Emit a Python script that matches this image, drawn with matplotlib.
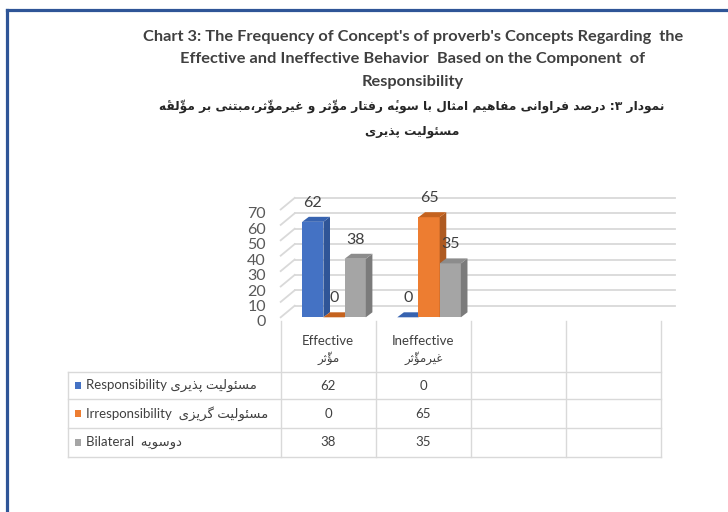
import matplotlib
matplotlib.use('Agg')
import matplotlib.pyplot as plt
import matplotlib.transforms as mtrans
from matplotlib.patches import Polygon, Rectangle
from matplotlib.lines import Line2D

# ---------------- data ----------------
categories_en = ['Effective', 'Ineffective', '', '']
categories_fa = ['مؤثّر', 'غیرمؤثّر', '', '']
series_en = ['Responsibility', 'Irresponsibility', 'Bilateral']
series_fa = ['مسئولیت پذیری', 'مسئولیت گریزی', 'دوسویه']
responsibility = [62, 0]
irresponsibility = [0, 65]
bilateral = [38, 35]
y_ticks = [0, 10, 20, 30, 40, 50, 60, 70]
title_en = ["Chart 3: The Frequency of Concept's of proverb's Concepts Regarding  the",
            "Effective and Ineffective Behavior  Based on the Component  of",
            "Responsibility"]
title_fa = ["نمودار ۳: درصد فراوانی مفاهیم امثال با سویهٔ رفتار مؤثّر و غیرمؤثّر،مبتنی بر مؤلّفهٔ",
            "مسئولیت پذیری"]

# ---------------- simple Persian shaping ----------------
AR_FORMS = {
    0x0627: (0xFE8D, 0xFE8E, None, None), 0x0622: (0xFE81, 0xFE82, None, None),
    0x0623: (0xFE83, 0xFE84, None, None), 0x0624: (0xFE85, 0xFE86, None, None),
    0x0625: (0xFE87, 0xFE88, None, None), 0x0626: (0xFE89, 0xFE8A, 0xFE8B, 0xFE8C),
    0x0628: (0xFE8F, 0xFE90, 0xFE91, 0xFE92), 0x0629: (0xFE93, 0xFE94, None, None),
    0x062A: (0xFE95, 0xFE96, 0xFE97, 0xFE98), 0x062B: (0xFE99, 0xFE9A, 0xFE9B, 0xFE9C),
    0x062C: (0xFE9D, 0xFE9E, 0xFE9F, 0xFEA0), 0x062D: (0xFEA1, 0xFEA2, 0xFEA3, 0xFEA4),
    0x062E: (0xFEA5, 0xFEA6, 0xFEA7, 0xFEA8), 0x062F: (0xFEA9, 0xFEAA, None, None),
    0x0630: (0xFEAB, 0xFEAC, None, None), 0x0631: (0xFEAD, 0xFEAE, None, None),
    0x0632: (0xFEAF, 0xFEB0, None, None), 0x0633: (0xFEB1, 0xFEB2, 0xFEB3, 0xFEB4),
    0x0634: (0xFEB5, 0xFEB6, 0xFEB7, 0xFEB8), 0x0635: (0xFEB9, 0xFEBA, 0xFEBB, 0xFEBC),
    0x0636: (0xFEBD, 0xFEBE, 0xFEBF, 0xFEC0), 0x0637: (0xFEC1, 0xFEC2, 0xFEC3, 0xFEC4),
    0x0638: (0xFEC5, 0xFEC6, 0xFEC7, 0xFEC8), 0x0639: (0xFEC9, 0xFECA, 0xFECB, 0xFECC),
    0x063A: (0xFECD, 0xFECE, 0xFECF, 0xFED0), 0x0641: (0xFED1, 0xFED2, 0xFED3, 0xFED4),
    0x0642: (0xFED5, 0xFED6, 0xFED7, 0xFED8), 0x0644: (0xFEDD, 0xFEDE, 0xFEDF, 0xFEE0),
    0x0645: (0xFEE1, 0xFEE2, 0xFEE3, 0xFEE4), 0x0646: (0xFEE5, 0xFEE6, 0xFEE7, 0xFEE8),
    0x0647: (0xFEE9, 0xFEEA, 0xFEEB, 0xFEEC), 0x0648: (0xFEED, 0xFEEE, None, None),
    0x067E: (0xFB56, 0xFB57, 0xFB58, 0xFB59), 0x0686: (0xFB7A, 0xFB7B, 0xFB7C, 0xFB7D),
    0x0698: (0xFB8A, 0xFB8B, None, None), 0x06A9: (0xFB8E, 0xFB8F, 0xFB90, 0xFB91),
    0x06AF: (0xFB92, 0xFB93, 0xFB94, 0xFB95), 0x06CC: (0xFBFC, 0xFBFD, 0xFBFE, 0xFBFF),
}


def _transparent(c):
    o = ord(c)
    return 0x064B <= o <= 0x065F or o == 0x0670


def _jtype(c):
    f = AR_FORMS.get(ord(c))
    if f is None:
        return 'U'
    return 'D' if f[2] is not None else 'R'


def fa(text):
    text = text.replace('\u064A', '\u06CC').replace('\u0643', '\u06A9')
    ch = list(text)
    n = len(ch)
    out = []
    i = 0
    while i < n:
        c = ch[i]
        if _transparent(c):
            if out:
                out[-1] += c
            else:
                out.append(c)
            i += 1
            continue
        jt = _jtype(c)
        if jt == 'U':
            out.append(c)
            i += 1
            continue
        j = i - 1
        while j >= 0 and _transparent(ch[j]):
            j -= 1
        cp = j >= 0 and _jtype(ch[j]) == 'D'
        k = i + 1
        while k < n and _transparent(ch[k]):
            k += 1
        nb = ch[k] if k < n else None
        if ord(c) == 0x0644 and nb is not None and ord(nb) == 0x0627:
            out.append(chr(0xFEFC if cp else 0xFEFB) + ''.join(ch[i + 1:k]))
            i = k + 1
            continue
        cn = jt == 'D' and nb is not None and _jtype(nb) in ('D', 'R')
        f = AR_FORMS[ord(c)]
        g = f[3] if (cp and cn) else f[1] if cp else f[2] if cn else f[0]
        out.append(chr(g))
        i += 1
    return ''.join(reversed(out))


# ---------------- figure ----------------
W, H = 728, 512
DPI = 100
fig = plt.figure(figsize=(W / DPI, H / DPI), dpi=DPI)
fig.patch.set_facecolor('white')

LAT = ['Lato', 'DejaVu Sans']
FAF = ['DejaVu Sans']
TXT = '#404040'
GRID = '#D9D9D9'

# plot area (front plane) in pixels
x0, x1 = 280.7, 661.0
yb, yt = 317.3, 209.5
ax = fig.add_axes([x0 / W, (H - yb) / H, (x1 - x0) / W, (yb - yt) / H])
ax.set_xlim(0, len(categories_en))
ax.set_ylim(0, 70)
ax.axis('off')

PXX = (x1 - x0) / len(categories_en)
PXY = (yb - yt) / 70.0
WDX, WDY = 14 / PXX, 11.6 / PXY       # wall depth
BDX, BDY = 6.6 / PXX, 5.0 / PXY       # bar depth
BW = 21.2 / PXX
GO = 21.5 / PXX

# gridlines (back wall + left wall)
for v in y_ticks:
    ax.add_line(Line2D([WDX, len(categories_en) + WDX], [v + WDY, v + WDY],
                       color=GRID, lw=1.3, clip_on=False, zorder=1))
    ax.add_line(Line2D([0, WDX], [v, v + WDY], color=GRID, lw=1.3,
                       clip_on=False, zorder=1))
    ax.annotate(str(v), (-0.155, v), xytext=(0, -3.6), textcoords='offset points',
                ha='right', va='center', fontsize=11.5, color='#595959',
                family=LAT, annotation_clip=False)

series_vals = [responsibility, irresponsibility, bilateral]
front_c = ['#4472C4', '#ED7D31', '#A5A5A5']
side_c = ['#2F5597', '#AE5A21', '#7B7B7B']
top_c = ['#3763B0', '#C5621E', '#8C8C8C']

z = 3
for ci in range(len(responsibility)):
    for si, vals in enumerate(series_vals):
        v = vals[ci]
        x = ci + GO + si * BW
        ax.add_patch(Rectangle((x, 0), BW, v, facecolor=front_c[si], edgecolor='none',
                               zorder=z, clip_on=False))
        ax.add_patch(Polygon([(x + BW, 0), (x + BW + BDX, BDY), (x + BW + BDX, v + BDY),
                              (x + BW, v)], closed=True, facecolor=side_c[si],
                             edgecolor='none', zorder=z, clip_on=False))
        ax.add_patch(Polygon([(x, v), (x + BDX, v + BDY), (x + BW + BDX, v + BDY),
                              (x + BW, v)], closed=True, facecolor=top_c[si],
                             edgecolor='none', zorder=z, clip_on=False))
        z += 1
        ax.annotate(str(v), (x + BW / 2, v), xytext=(0, 13.7), textcoords='offset points',
                    ha='center', va='center', fontsize=11.5, color=TXT, family=LAT,
                    annotation_clip=False, zorder=20)

# ---------------- data table ----------------
ypx = mtrans.Affine2D().scale(1, -1).translate(0, H)
bt = mtrans.blended_transform_factory(ax.transData, ypx)
TGRID = '#D9D9D9'
left_x = (68.3 - x0) / PXX
row_lines = [371.7, 399.3, 428.3, 456.7]
ncat = len(categories_en)
for i in range(ncat + 1):
    ax.add_line(Line2D([i, i], [320.7, row_lines[-1]], transform=bt, color=TGRID,
                       lw=1.0, clip_on=False))
for yl in row_lines:
    ax.add_line(Line2D([left_x, ncat], [yl, yl], transform=bt, color=TGRID, lw=1.0,
                       clip_on=False))
ax.add_line(Line2D([left_x, left_x], [row_lines[0], row_lines[-1]], transform=bt,
                   color=TGRID, lw=1.0, clip_on=False))

for i, (en, fw) in enumerate(zip(categories_en, categories_fa)):
    if en:
        ax.text(i + 0.5, 341, en, transform=bt, ha='center', va='center', fontsize=9.5,
                color=TXT, family=LAT)
    if fw:
        ax.text(i + 0.5, 358.5, fa(fw), transform=bt, ha='center', va='center',
                fontsize=8.5, color=TXT, family=FAF)

sq_x = (74.5 - x0) / PXX
sq_w = 6.5 / PXX
txt_x = (86 - x0) / PXX
gaps = [' ', '  ', '  ']
for r in range(len(series_en)):
    yc = (row_lines[r] + row_lines[r + 1]) / 2
    ax.add_patch(Rectangle((sq_x, yc + 3.5), sq_w, -7, transform=bt,
                           facecolor=front_c[r], edgecolor='none', clip_on=False))
    ax.text(txt_x, yc, series_en[r] + gaps[r] + fa(series_fa[r]), transform=bt,
            ha='left', va='center', fontsize=9.5, color=TXT, family=LAT)
    for ci, v in enumerate(series_vals[r]):
        ax.text(ci + 0.5, yc, str(v), transform=bt, ha='center', va='center',
                fontsize=9.5, color=TXT, family=LAT)

# ---------------- titles ----------------
for k, line in enumerate(title_en):
    fig.text(413 / W, 1 - (37 + 22.5 * k) / H, line, ha='center', va='center',
             fontsize=11.75, fontweight='bold', color=TXT, family=LAT)
for k, line in enumerate(title_fa):
    fig.text(412 / W, 1 - (106 + 26 * k) / H, fa(line), ha='center', va='center',
             fontsize=8.85, fontweight='bold', color='#262626', family=FAF)

# page border
bc = '#2F5597'
fig.add_artist(Line2D([7 / W, 7 / W], [0, 1 - 9.5 / H], color=bc, lw=2.3,
                      transform=fig.transFigure, solid_capstyle='projecting'))
fig.add_artist(Line2D([7 / W, 1], [1 - 9.5 / H, 1 - 9.5 / H], color=bc, lw=2.3,
                      transform=fig.transFigure, solid_capstyle='projecting'))

fig.savefig('out.png', dpi=DPI)
